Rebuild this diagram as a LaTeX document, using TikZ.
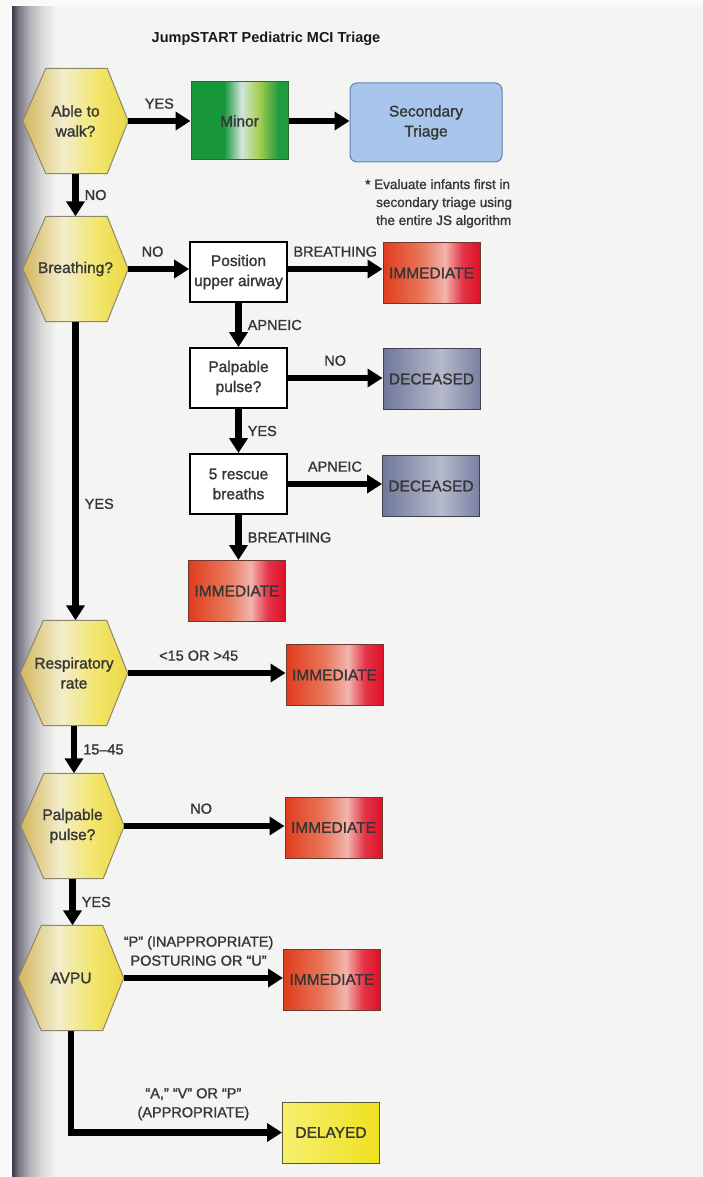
\documentclass[tikz,border=0pt]{standalone}
\usepackage{fontspec}
\setmainfont{Liberation Sans}
\newfontfamily\medfont[FakeBold=1.3]{Liberation Sans}
\usetikzlibrary{arrows.meta,backgrounds,calc}

% palette
\definecolor{margin}{HTML}{FAFAFA}
\definecolor{pagebg}{HTML}{F4F4F2}
\definecolor{edgeA}{HTML}{3C3A48}
\definecolor{edgeB}{HTML}{7C7A86}
\definecolor{edgeC}{HTML}{B2B2B8}
\definecolor{edgeD}{HTML}{DCDCDC}
\definecolor{txt}{HTML}{363636}
\definecolor{hexA}{HTML}{D2B65C}
\definecolor{hexB}{HTML}{F3EDCC}
\definecolor{hexC}{HTML}{F2E66C}
\definecolor{hexD}{HTML}{E9D846}
\definecolor{hexline}{HTML}{8C8670}
\definecolor{minA}{HTML}{18973A}
\definecolor{minB}{HTML}{CFE6DC}
\definecolor{minC}{HTML}{A6CF4E}
\definecolor{minD}{HTML}{1F9B40}
\definecolor{minline}{HTML}{2C6A3A}
\definecolor{secfill}{HTML}{A8C6EC}
\definecolor{secline}{HTML}{6282B4}
\definecolor{immA}{HTML}{E03C1C}
\definecolor{immB}{HTML}{E9785C}
\definecolor{immC}{HTML}{F2B4AC}
\definecolor{immD}{HTML}{E43448}
\definecolor{immE}{HTML}{DE1026}
\definecolor{immline}{HTML}{6A3A30}
\definecolor{decA}{HTML}{70789A}
\definecolor{decB}{HTML}{B6BACC}
\definecolor{decC}{HTML}{7A80A2}
\definecolor{decline}{HTML}{404050}
\definecolor{delA}{HTML}{F6F070}
\definecolor{delB}{HTML}{EEE020}
\definecolor{delline}{HTML}{5A5A30}

% horizontal shadings (the shaded path spans 25bp..75bp)
\pgfdeclarehorizontalshading{edgeshade}{100bp}{color(0bp)=(edgeA); color(25bp)=(edgeA); color(33bp)=(edgeB); color(45bp)=(edgeC); color(60bp)=(edgeD); color(75bp)=(pagebg); color(100bp)=(pagebg)}
\pgfdeclarehorizontalshading{hexshade}{100bp}{color(0bp)=(hexA); color(25bp)=(hexA); color(44bp)=(hexB); color(60bp)=(hexC); color(75bp)=(hexD); color(100bp)=(hexD)}
\pgfdeclarehorizontalshading{minshade}{100bp}{color(0bp)=(minA); color(25bp)=(minA); color(42bp)=(minA); color(51bp)=(minB); color(60bp)=(minC); color(70bp)=(minD); color(75bp)=(minD); color(100bp)=(minD)}
\pgfdeclarehorizontalshading{immshade}{100bp}{color(0bp)=(immA); color(25bp)=(immA); color(45bp)=(immB); color(57bp)=(immC); color(66bp)=(immD); color(75bp)=(immE); color(100bp)=(immE)}
\pgfdeclarehorizontalshading{decshade}{100bp}{color(0bp)=(decA); color(25bp)=(decA); color(55bp)=(decB); color(75bp)=(decC); color(100bp)=(decC)}
\pgfdeclarehorizontalshading{delshade}{100bp}{color(0bp)=(delA); color(25bp)=(delA); color(75bp)=(delB); color(100bp)=(delB)}

% decision hexagon: invisible text node plus its shaded outline behind it
\newcommand\hexstep[5]{%
  \node[hexnode, minimum width=#4] (#1) at (#2,#3) {#5};
  \begin{scope}[on background layer]
    \path[hexfill] (#1.west) -- ([xshift=23pt]#1.north west) -- ([xshift=-21pt]#1.north east)
      -- (#1.east) -- ([xshift=-21pt]#1.south east) -- ([xshift=23pt]#1.south west) -- cycle;
  \end{scope}%
}

\begin{document}
\begin{tikzpicture}[x=1pt,y=-1pt,
  boxfont/.style={font=\medfont\fontsize{15.5}{20}\selectfont},
  hexnode/.style={boxfont, text=txt, align=center, inner sep=0pt, minimum height=105pt},
  hexfill/.style={draw=hexline, line width=1pt, shading=hexshade},
  stepbox/.style={boxfont, text=txt, align=center, draw=black, line width=1.8pt, fill=white,
    minimum width=97pt, minimum height=60pt, inner sep=0pt},
  tagbox/.style={boxfont, text=txt, align=center, line width=1pt,
    minimum width=97pt, minimum height=61pt, inner sep=0pt},
  minorbox/.style={tagbox, draw=minline, shading=minshade, minimum height=78pt},
  secbox/.style={tagbox, draw=secline, fill=secfill, rounded corners=7pt,
    minimum width=152pt, minimum height=79pt},
  immbox/.style={tagbox, draw=immline, shading=immshade},
  decbox/.style={tagbox, draw=decline, shading=decshade},
  delbox/.style={tagbox, draw=delline, shading=delshade},
  flow/.style={line width=6.5pt, draw=black, -{Triangle[length=15pt,width=18pt]}},
  lbl/.style={font=\medfont\fontsize{14.5}{19}\selectfont, text=txt, inner sep=1pt, align=center}
]
\useasboundingbox (0,0) rectangle (703,1177);

% page and shadowed binding edge
\begin{scope}[on background layer]
  \fill[margin] (0,0) rectangle (703,1177);
  \fill[pagebg] (12,7) rectangle (703,1177);
  \shade[shading=edgeshade] (12,7) rectangle (56,1177);
\end{scope}

% title
\node[font=\bfseries\fontsize{14.5}{18}\selectfont, text=black!90] (title) at (266,39)
  {JumpSTART Pediatric MCI Triage};

% decisions
\hexstep{walk}{75.5}{121}{105pt}{Able to\\walk?}
\hexstep{breath}{75.5}{269}{105pt}{Breathing?}
\hexstep{resp}{74}{673}{107pt}{Respiratory\\rate}
\hexstep{pp}{72.5}{826}{103pt}{Palpable\\pulse?}
\hexstep{avpu}{71}{978}{105pt}{AVPU}

% actions and categories
\node[minorbox] (minor) at (239.5,121) {Minor};
\node[secbox] (sec) at (426,122.5) {Secondary\\Triage};
\node[lbl, anchor=north west, align=left, font=\medfont\fontsize{13.5}{18}\selectfont] (note) at (364,178)
  {* Evaluate infants first in\\\hspace*{11pt}secondary triage using\\\hspace*{11pt}the entire JS algorithm};

\node[stepbox] (airway) at (238.5,272) {Position\\upper airway};
\node[immbox] (imm1) at (431.5,273) {IMMEDIATE};
\node[stepbox] (pulse) at (238.5,378) {Palpable\\pulse?};
\node[decbox] (dec1) at (431.5,379) {DECEASED};
\node[stepbox] (rescue) at (238.5,484) {5 rescue\\breaths};
\node[decbox] (dec2) at (431,486) {DECEASED};
\node[immbox] (imm2) at (237,591) {IMMEDIATE};
\node[immbox] (imm3) at (334.5,675) {IMMEDIATE};
\node[immbox] (imm4) at (333.5,827.5) {IMMEDIATE};
\node[immbox] (imm5) at (332,979.5) {IMMEDIATE};
\node[delbox] (delayed) at (331,1132.5) {DELAYED};

% connectors
\draw[flow] (walk.east) -- (walk.east -| minor.west) node[lbl, midway, above=8pt] {YES};
\draw[flow] (minor.east) -- (minor.east -| sec.west);
\draw[flow] (walk.south) -- (walk.south |- breath.north) node[lbl, midway, right=5pt] {NO};

\draw[flow] (breath.east) -- (breath.east -| airway.west) node[lbl, pos=0.4, above=8pt] {NO};
\draw[flow] (airway.east |- breath.east) -- (breath.east -| imm1.west) node[lbl, midway, above=8pt] {BREATHING};
\draw[flow] (airway.south) -- (pulse.north) node[lbl, midway, right=5pt] {APNEIC};
\draw[flow] (pulse.east) -- (pulse.east -| dec1.west) node[lbl, midway, above=8pt] {NO};
\draw[flow] (pulse.south) -- (rescue.north) node[lbl, midway, right=5pt] {YES};
\draw[flow] (rescue.east) -- (rescue.east -| dec2.west) node[lbl, midway, above=8pt] {APNEIC};
\draw[flow] (rescue.south) -- (rescue.south |- imm2.north) node[lbl, midway, right=5pt] {BREATHING};

\draw[flow] (breath.south) -- (breath.south |- resp.north) node[lbl, pos=0.61, right=5pt] {YES};
\draw[flow] (resp.east) -- (resp.east -| imm3.west) node[lbl, pos=0.45, above=8pt] {<15 OR >45};
\draw[flow] (resp.south) -- (resp.south |- pp.north) node[lbl, midway, right=5pt] {15–45};
\draw[flow] (pp.east) -- (pp.east -| imm4.west) node[lbl, pos=0.48, above=8pt] {NO};
\draw[flow] (pp.south) -- (pp.south |- avpu.north) node[lbl, midway, right=5pt] {YES};
\draw[flow] (avpu.east) -- (avpu.east -| imm5.west) node[lbl, pos=0.47, above=8pt]
  {“P” (INAPPROPRIATE)\\POSTURING OR “U”};
\draw[flow] (avpu.south) |- (delayed.west) node[lbl, pos=0.79, above=8pt]
  {“A,” “V” OR “P”\\(APPROPRIATE)};
\end{tikzpicture}
\end{document}
